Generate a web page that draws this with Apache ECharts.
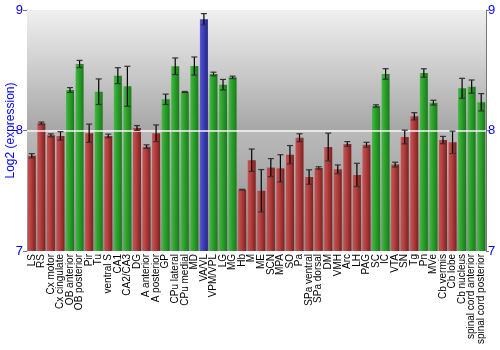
<!DOCTYPE html>
<html>
<head>
<meta charset="utf-8">
<script src="https://cdn.jsdelivr.net/npm/echarts@6/dist/echarts.min.js"></script>
<style>html,body{margin:0;padding:0;background:#fff}#c{width:500px;height:350px}</style>
</head>
<body>
<div id="c"></div>
<script>
var categories = ["LS","RS","Cx motor","Cx cingulate","OB anterior","OB posterior","Pir","Tu","ventral S","CA1","CA2/CA3","DG","A anterior","A posterior","GP","CPu lateral","CPu medial","MD","VA/VL","VPM/VPL","LG","MG","Hb","M","ME","SCN","MPA","SO","Pa","SPa ventral","SPa dorsal","DM","VMH","Arc","LH","PAG","SC","IC","VTA","SN","Tg","Pn","MVe","Cb vermis","Cb lobe","Cb nucleus","spinal cord anterior","spinal cord posterior"];
var values = [7.79,8.06,7.96,7.955,8.336,8.552,7.977,8.322,7.955,8.455,8.367,8.021,7.866,7.977,8.259,8.533,8.32,8.535,8.923,8.469,8.38,8.441,7.509,7.753,7.5,7.692,7.686,7.799,7.94,7.614,7.689,7.863,7.678,7.888,7.631,7.882,8.203,8.469,7.717,7.946,8.118,8.477,8.231,7.921,7.902,8.35,8.364,8.234];
var errors = [0.018,0.01,0.012,0.035,0.02,0.03,0.076,0.106,0.015,0.066,0.166,0.02,0.015,0.069,0.043,0.069,0.004,0.075,0.047,0.015,0.044,0.01,0.003,0.093,0.176,0.075,0.113,0.076,0.033,0.06,0.01,0.115,0.036,0.02,0.097,0.02,0.01,0.044,0.02,0.057,0.03,0.035,0.02,0.03,0.093,0.083,0.055,0.072];
var groups = ["r","r","r","r","g","g","r","g","r","g","g","r","r","r","g","g","g","g","b","g","g","g","r","r","r","r","r","r","r","r","r","r","r","r","r","r","g","g","r","r","r","g","g","r","r","g","g","g"];
var yTicks = [7, 8, 9];

function grad(c1, c2, c3) {
  return new echarts.graphic.LinearGradient(0, 0, 1, 0, [
    {offset: 0, color: c1}, {offset: 0.35, color: c2}, {offset: 1, color: c3}
  ]);
}
var fills = {
  r: grad('#c45252', '#b84242', '#7e2020'),
  g: grad('#46b846', '#2fa52f', '#1a7a1a'),
  b: grad('#5a5ad2', '#4242c0', '#26268a')
};

var barData = values.map(function (v, i) {
  return {value: v, itemStyle: {color: fills[groups[i]]}};
});
var errData = values.map(function (v, i) { return [i, v - errors[i], v + errors[i]]; });

var chart = echarts.init(document.getElementById('c'));
chart.setOption({
  animation: false,
  grid: {left: 27, right: 14, top: 10, bottom: 99, containLabel: false, outerBoundsMode: 'none'},
  xAxis: [{
    type: 'category', data: categories,
    axisLine: {show: false}, axisTick: {show: false},
    axisLabel: {rotate: 90, interval: 0, fontSize: 10, color: '#000', margin: 3, fontFamily: 'Liberation Sans'}
  }, {
    type: 'category', data: categories, position: 'top',
    axisLine: {show: true, lineStyle: {color: '#777', width: 1}},
    axisTick: {show: false}, axisLabel: {show: false}
  }],
  yAxis: [{
    type: 'value', min: 7, max: 9, interval: 1, position: 'left',
    name: 'Log2 (expression)', nameLocation: 'middle', nameGap: 16, nameMoveOverlap: false,
    nameTextStyle: {color: '#0000ff', fontSize: 12, fontFamily: 'Liberation Sans', verticalAlign: 'middle'},
    axisLine: {show: true, lineStyle: {color: '#777'}},
    axisTick: {show: true, length: 4, lineStyle: {color: '#777'}},
    axisLabel: {color: '#0000ff', fontSize: 13, margin: 4, fontFamily: 'Liberation Sans',
      formatter: function (v) { return yTicks.indexOf(v) >= 0 ? String(v) : ''; }},
    splitLine: {show: false}
  }, {
    type: 'value', min: 7, max: 9, interval: 1, position: 'right',
    axisLine: {show: true, lineStyle: {color: '#777'}},
    axisTick: {show: true, length: 3, lineStyle: {color: '#777'}},
    axisLabel: {color: '#0000ff', fontSize: 13, margin: 2, fontFamily: 'Liberation Sans'},
    splitLine: {show: false}
  }],
  series: [{
    type: 'bar', data: barData, barWidth: 8, barGap: '0%',
    markArea: {
      silent: true,
      data: [
        [{yAxis: 8, itemStyle: {color: new echarts.graphic.LinearGradient(0, 0, 0, 1, [{offset: 0, color: '#f0f0f0'}, {offset: 1, color: '#a6a6a6'}])}}, {yAxis: 9}],
        [{yAxis: 7, itemStyle: {color: new echarts.graphic.LinearGradient(0, 0, 0, 1, [{offset: 0, color: '#bababa'}, {offset: 1, color: '#8e8e8e'}])}}, {yAxis: 8}]
      ]
    },
    markLine: {
      silent: true, symbol: 'none', label: {show: false},
      lineStyle: {color: '#f4f4f4', width: 1.5, type: 'solid'},
      data: [{yAxis: 8}]
    },
    z: 2
  }, {
    type: 'custom', data: errData, z: 5,
    renderItem: function (params, api) {
      var x = api.value(0);
      var lo = api.coord([x, api.value(1)]);
      var hi = api.coord([x, api.value(2)]);
      var cx = lo[0];
      var hw = 3;
      return {
        type: 'group',
        children: [
          {type: 'line', shape: {x1: cx, y1: lo[1], x2: cx, y2: hi[1]}, style: {stroke: '#000', lineWidth: 1.2}},
          {type: 'line', shape: {x1: cx - hw, y1: lo[1], x2: cx + hw, y2: lo[1]}, style: {stroke: '#333', lineWidth: 1.2}},
          {type: 'line', shape: {x1: cx - hw, y1: hi[1], x2: cx + hw, y2: hi[1]}, style: {stroke: '#333', lineWidth: 1.2}}
        ]
      };
    }
  }]
});
</script>
</body>
</html>
